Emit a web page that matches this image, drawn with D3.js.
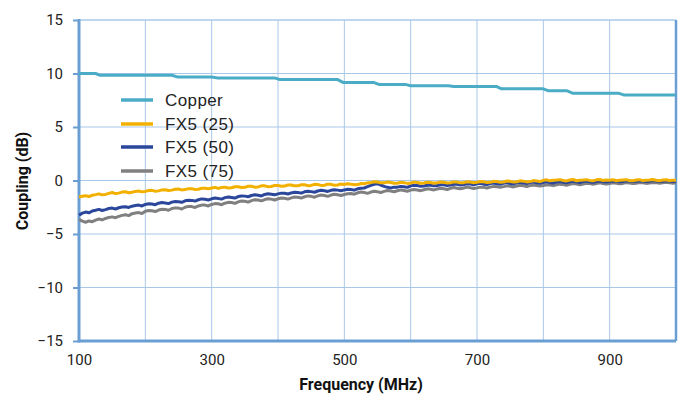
<!DOCTYPE html>
<html><head><meta charset="utf-8">
<script src="https://cdn.jsdelivr.net/npm/d3@7/dist/d3.min.js"></script>
<style>body{margin:0;background:#fff}svg{display:block}</style>
</head><body>
<svg id="c" width="681" height="396"></svg>
<script>
const xTickLabels = [100, 300, 500, 700, 900];
const yTickLabels = [-15, -10, -5, 0, 5, 10, 15];
const seriesNames = ["Copper", "FX5 (25)", "FX5 (50)", "FX5 (75)"];
const seriesColors = ["#4bacc6", "#f2b100", "#2b479c", "#808080"];

// Copper: step-like curve (frequency MHz, dB)
const copperFreq = [100,125,131,240,248,300,308,395,403,490,498,544,552,592,600,657,665,729,737,800,808,836,844,913,921,1000];
const copperVal  = [10.0,10.0,9.84,9.84,9.68,9.68,9.59,9.59,9.43,9.43,9.17,9.17,8.98,8.98,8.86,8.86,8.79,8.79,8.57,8.57,8.38,8.38,8.16,8.16,8.0,8.0];

// FX5 series sampled every 5 MHz from 100 to 1000 (rows of 100 MHz)
const fx25 = [
-1.55,-1.48,-1.42,-1.50,-1.38,-1.32,-1.25,-1.34,-1.30,-1.20,-1.12,-1.22,-1.18,-1.08,-1.05,-1.14,-1.10,-1.02,-0.98,-1.06,
-1.02,-0.94,-0.92,-1.00,-0.97,-0.88,-0.86,-0.94,-0.90,-0.82,-0.80,-0.88,-0.85,-0.76,-0.76,-0.84,-0.82,-0.72,-0.72,-0.78,
-0.70,-0.64,-0.74,-0.66,-0.62,-0.70,-0.68,-0.58,-0.58,-0.66,-0.64,-0.54,-0.54,-0.62,-0.60,-0.50,-0.50,-0.58,-0.56,-0.46,
-0.46,-0.54,-0.52,-0.42,-0.42,-0.50,-0.50,-0.40,-0.40,-0.48,-0.46,-0.36,-0.38,-0.46,-0.44,-0.34,-0.36,-0.44,-0.42,-0.32,
-0.37,-0.30,-0.34,-0.40,-0.38,-0.28,-0.30,-0.22,-0.20,-0.12,-0.14,-0.22,-0.22,-0.14,-0.18,-0.26,-0.25,-0.17,-0.20,-0.27,
-0.23,-0.15,-0.18,-0.26,-0.24,-0.16,-0.19,-0.26,-0.22,-0.14,-0.16,-0.24,-0.21,-0.13,-0.15,-0.22,-0.20,-0.12,-0.14,-0.21,
-0.16,-0.09,-0.12,-0.19,-0.17,-0.08,-0.10,-0.17,-0.14,-0.05,-0.08,-0.15,-0.12,-0.03,-0.06,-0.13,-0.10,-0.01,-0.04,-0.10,
0.02,0.06,-0.03,0.02,0.04,0.08,0.00,-0.04,0.05,0.09,-0.02,0.03,0.04,0.08,0.01,-0.03,0.06,0.09,0.00,0.04,
0.03,0.07,-0.02,0.02,0.05,0.08,0.00,-0.03,0.04,0.08,-0.01,0.03,0.05,0.09,0.02,-0.02,0.04,0.07,0.00,0.03,0.03];
const fx50 = [
-3.25,-3.05,-2.95,-3.02,-2.85,-2.78,-2.70,-2.80,-2.72,-2.62,-2.58,-2.66,-2.55,-2.48,-2.45,-2.52,-2.40,-2.34,-2.30,-2.38,
-2.24,-2.18,-2.20,-2.26,-2.12,-2.06,-2.10,-2.16,-2.02,-1.96,-1.98,-2.04,-1.90,-1.84,-1.86,-1.92,-1.80,-1.72,-1.76,-1.82,
-1.71,-1.64,-1.68,-1.74,-1.60,-1.54,-1.58,-1.64,-1.50,-1.44,-1.46,-1.52,-1.40,-1.34,-1.38,-1.44,-1.30,-1.24,-1.28,-1.34,
-1.25,-1.18,-1.20,-1.26,-1.16,-1.10,-1.12,-1.18,-1.06,-1.00,-1.04,-1.10,-0.98,-0.92,-0.96,-1.02,-0.92,-0.86,-0.90,-0.96,
-0.88,-0.82,-0.84,-0.90,-0.78,-0.72,-0.70,-0.58,-0.45,-0.36,-0.30,-0.42,-0.55,-0.64,-0.69,-0.62,-0.62,-0.55,-0.58,-0.64,
-0.50,-0.44,-0.47,-0.53,-0.52,-0.45,-0.44,-0.50,-0.46,-0.39,-0.40,-0.46,-0.42,-0.35,-0.36,-0.42,-0.38,-0.31,-0.33,-0.39,
-0.31,-0.26,-0.34,-0.38,-0.28,-0.23,-0.30,-0.35,-0.25,-0.20,-0.28,-0.32,-0.22,-0.17,-0.24,-0.29,-0.20,-0.15,-0.22,-0.27,
-0.18,-0.13,-0.20,-0.24,-0.15,-0.10,-0.17,-0.22,-0.12,-0.08,-0.15,-0.19,-0.10,-0.06,-0.13,-0.17,-0.09,-0.05,-0.11,-0.15,
-0.10,-0.05,-0.07,-0.12,-0.09,-0.03,-0.05,-0.10,-0.08,-0.02,-0.04,-0.09,-0.07,-0.01,-0.05,-0.10,-0.08,-0.02,-0.04,-0.09,-0.06];
const fx75 = [
-3.64,-3.80,-3.90,-3.78,-3.85,-3.70,-3.60,-3.68,-3.55,-3.45,-3.40,-3.48,-3.35,-3.26,-3.20,-3.28,-3.10,-3.04,-3.00,-3.08,
-2.87,-2.80,-2.82,-2.90,-2.76,-2.68,-2.70,-2.78,-2.62,-2.56,-2.58,-2.66,-2.50,-2.42,-2.44,-2.52,-2.38,-2.30,-2.30,-2.38,
-2.24,-2.16,-2.18,-2.26,-2.12,-2.04,-2.06,-2.14,-2.00,-1.92,-1.94,-2.02,-1.88,-1.80,-1.82,-1.90,-1.78,-1.70,-1.74,-1.82,
-1.71,-1.64,-1.66,-1.74,-1.62,-1.54,-1.56,-1.64,-1.52,-1.44,-1.48,-1.56,-1.44,-1.36,-1.40,-1.48,-1.36,-1.28,-1.33,-1.40,
-1.31,-1.24,-1.22,-1.28,-1.15,-1.08,-1.12,-1.20,-1.08,-1.00,-1.05,-1.12,-1.02,-0.94,-0.98,-1.05,-0.96,-0.88,-0.93,-1.00,
-0.90,-0.84,-0.88,-0.95,-0.86,-0.78,-0.82,-0.88,-0.80,-0.72,-0.78,-0.84,-0.74,-0.66,-0.72,-0.78,-0.70,-0.62,-0.68,-0.74,
-0.69,-0.62,-0.64,-0.70,-0.62,-0.55,-0.58,-0.64,-0.57,-0.50,-0.54,-0.60,-0.52,-0.45,-0.50,-0.56,-0.48,-0.42,-0.46,-0.52,
-0.47,-0.40,-0.42,-0.48,-0.40,-0.34,-0.38,-0.44,-0.36,-0.29,-0.33,-0.39,-0.32,-0.26,-0.29,-0.35,-0.28,-0.22,-0.28,-0.34,
-0.28,-0.22,-0.25,-0.31,-0.27,-0.20,-0.23,-0.29,-0.25,-0.18,-0.21,-0.27,-0.24,-0.18,-0.20,-0.26,-0.22,-0.17,-0.20,-0.26,-0.22];
const fxFreq = d3.range(100, 1001, 5);

const svg = d3.select("#c");
const L = 79, R = 676, T = 20, B = 341;
const x = d3.scaleLinear().domain([100, 1000]).range([L, R]);
const y = d3.scaleLinear().domain([-15, 15]).range([B, T]);
const font = "Roboto, 'Noto Sans', sans-serif";
const legFont = "'Liberation Sans', Arial, sans-serif";
const gridColor = "#a9c8e8", axisColor = "#6b9fd3";

// gridlines
svg.append("g").selectAll("line").data(d3.range(200, 1000, 100)).join("line")
  .attr("x1", d => x(d)).attr("x2", d => x(d)).attr("y1", T).attr("y2", B)
  .attr("stroke", gridColor).attr("stroke-width", 1);
svg.append("g").selectAll("line").data(yTickLabels).join("line")
  .attr("x1", L).attr("x2", R).attr("y1", d => y(d)).attr("y2", d => y(d))
  .attr("stroke", gridColor).attr("stroke-width", d => d === 15 ? 1.5 : 1);

// y axis
const yAxis = d3.axisLeft(y).tickValues(yTickLabels).tickSize(6).tickPadding(10);
const gy = svg.append("g").attr("transform", `translate(${L},0)`).call(yAxis);
gy.select(".domain").remove();
gy.selectAll(".tick line").attr("stroke", axisColor).attr("stroke-width", 2);
gy.selectAll(".tick text").attr("font-family", font).attr("font-size", 15).attr("fill", "#222");

// x axis
const xAxis = d3.axisBottom(x).tickValues(xTickLabels).tickSize(0).tickPadding(13);
const gx = svg.append("g").attr("transform", `translate(0,${B})`).call(xAxis);
gx.select(".domain").remove();
gx.selectAll(".tick text").attr("font-family", font).attr("font-size", 15).attr("fill", "#222");

// frame lines
svg.append("line").attr("x1", L).attr("x2", L).attr("y1", T - 1).attr("y2", B + 1.5).attr("stroke", axisColor).attr("stroke-width", 3);
svg.append("line").attr("x1", L).attr("x2", R).attr("y1", B).attr("y2", B).attr("stroke", axisColor).attr("stroke-width", 3);
svg.append("line").attr("x1", R).attr("x2", R).attr("y1", T).attr("y2", B).attr("stroke", axisColor).attr("stroke-width", 2.5);

// series
const line = d3.line().x(d => x(d[0])).y(d => y(d[1]));
const copper = copperFreq.map((f, i) => [f, copperVal[i]]);
const s25 = fxFreq.map((f, i) => [f, fx25[i]]);
const s50 = fxFreq.map((f, i) => [f, fx50[i]]);
const s75 = fxFreq.map((f, i) => [f, fx75[i]]);
const allSeries = [copper, s25, s50, s75];
const drawOrder = [0, 3, 2, 1];
drawOrder.forEach(i => {
  svg.append("path").datum(allSeries[i]).attr("d", line)
    .attr("fill", "none").attr("stroke", seriesColors[i]).attr("stroke-width", 3)
    .attr("stroke-linejoin", "round");
});

// legend
const legY = [100, 124, 147, 171];
const lg = svg.append("g");
seriesNames.forEach((n, i) => {
  lg.append("line").attr("x1", 121).attr("x2", 153).attr("y1", legY[i]).attr("y2", legY[i])
    .attr("stroke", seriesColors[i]).attr("stroke-width", 3.5);
  lg.append("text").attr("x", 165).attr("y", legY[i]).attr("dy", "0.36em")
    .attr("font-family", legFont).attr("font-size", 17).attr("letter-spacing", 0.4)
    .attr("fill", "#222").text(n);
});

// axis titles
svg.append("text").attr("x", 361).attr("y", 390).attr("text-anchor", "middle")
  .attr("font-family", font).attr("font-weight", "bold").attr("font-size", 16).attr("fill", "#111")
  .text("Frequency (MHz)");
svg.append("text").attr("transform", `translate(22,181) rotate(-90)`).attr("text-anchor", "middle")
  .attr("dy", "0.35em")
  .attr("font-family", font).attr("font-weight", "bold").attr("font-size", 16).attr("fill", "#111")
  .text("Coupling (dB)");
</script>
</body></html>
